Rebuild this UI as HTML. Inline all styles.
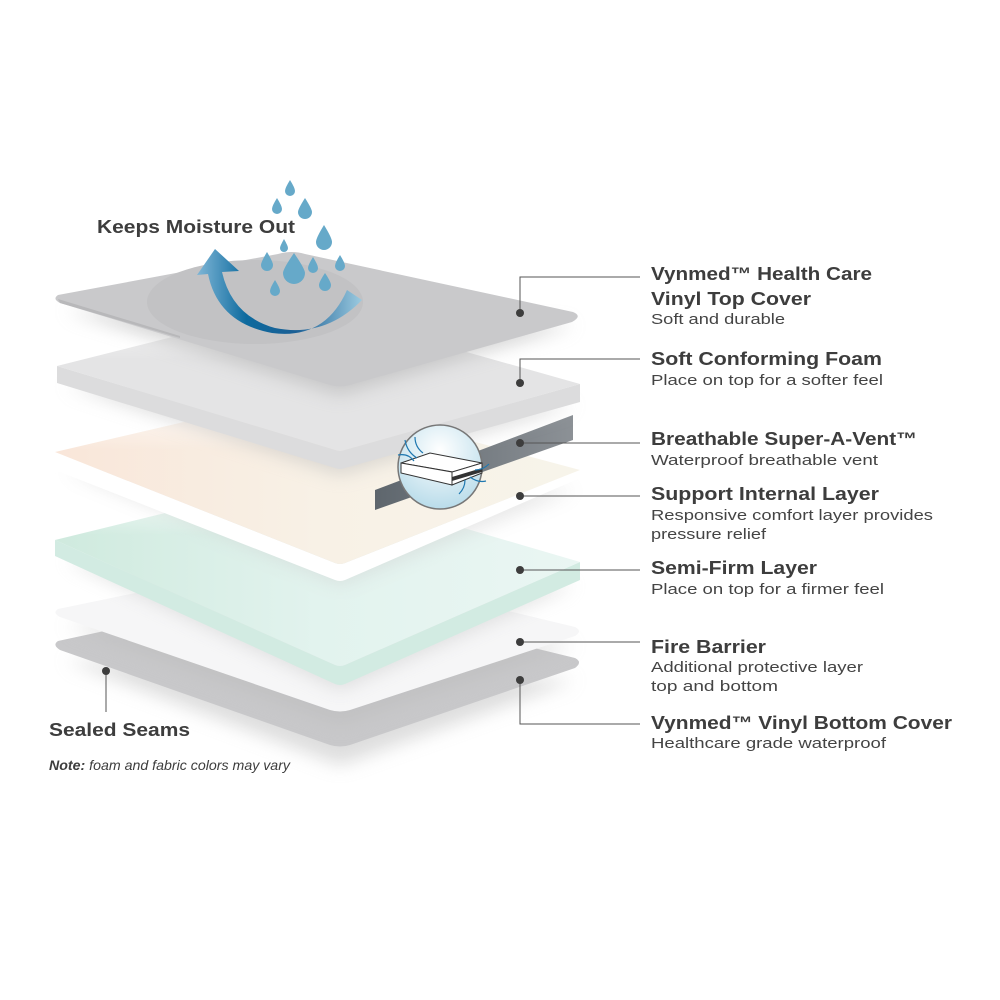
<!DOCTYPE html>
<html><head><meta charset="utf-8"><style>
html,body{margin:0;padding:0;background:#fff;width:1000px;height:1000px;overflow:hidden}
text{font-family:"Liberation Sans",sans-serif;fill:#3d3d3d}
.t{font-weight:bold;font-size:18px}
.s{font-size:15px;fill:#444}
</style></head><body>
<svg width="1000" height="1000" viewBox="0 0 1000 1000" xmlns="http://www.w3.org/2000/svg">
<defs>
<filter id="sh" x="-20%" y="-20%" width="140%" height="160%"><feGaussianBlur stdDeviation="9"/></filter>
<linearGradient id="arr" x1="0" y1="0" x2="1" y2="0">
<stop offset="0" stop-color="#7fb6d6"/><stop offset="0.3" stop-color="#0d6a9e"/><stop offset="0.6" stop-color="#1b5f95"/><stop offset="1" stop-color="#9ccbe0"/></linearGradient>
<linearGradient id="cream" x1="0" y1="0" x2="1" y2="0"><stop offset="0" stop-color="#f9e6d9"/><stop offset="0.5" stop-color="#f8f1e6"/><stop offset="1" stop-color="#f7f4ea"/></linearGradient>
<linearGradient id="mint" x1="0" y1="0" x2="1" y2="0"><stop offset="0" stop-color="#cfeade"/><stop offset="0.5" stop-color="#e2f3ee"/><stop offset="1" stop-color="#eaf6f3"/></linearGradient>
<linearGradient id="fadeTop" gradientUnits="userSpaceOnUse" x1="0" y1="300" x2="0" y2="360"><stop offset="0" stop-color="#fff" stop-opacity="0.9"/><stop offset="1" stop-color="#fff" stop-opacity="0"/></linearGradient>
<linearGradient id="fadeCream" gradientUnits="userSpaceOnUse" x1="0" y1="395" x2="0" y2="450"><stop offset="0" stop-color="#fff" stop-opacity="0.9"/><stop offset="1" stop-color="#fff" stop-opacity="0"/></linearGradient>
<linearGradient id="fadeMint" gradientUnits="userSpaceOnUse" x1="0" y1="480" x2="0" y2="535"><stop offset="0" stop-color="#fff" stop-opacity="0.9"/><stop offset="1" stop-color="#fff" stop-opacity="0"/></linearGradient>
<radialGradient id="bub" cx="0.5" cy="0.3" r="0.7"><stop offset="0" stop-color="#ffffff"/><stop offset="1" stop-color="#b9dcea"/></radialGradient>
<linearGradient id="vent" x1="0" y1="0" x2="1" y2="0"><stop offset="0" stop-color="#5e666d"/><stop offset="1" stop-color="#8c9196"/></linearGradient>
</defs>

<!-- bottom cover -->
<path d="M65 660 L340 765 L575 680 Z" fill="#bbb" opacity="0.5" filter="url(#sh)"/>
<path d="M58 641 Q52 645 60 650 L330 745 Q340 748 350 745 L575 668 Q583 662 575 658 L305 592 Q295 590 285 592 Z" fill="#c8c8ca"/>
<!-- fire barrier -->
<path d="M65 625 L340 725 L575 645 Z" fill="#bbb" opacity="0.5" filter="url(#sh)"/>
<path d="M58 609 Q52 613 60 617 L330 710 Q340 713 350 710 L575 636 Q583 631 575 627 L305 562 Q295 560 285 562 Z" fill="#f6f6f7"/>
<!-- semi-firm -->
<path d="M65 560 L340 690 L575 585 Z" fill="#bbb" opacity="0.4" filter="url(#sh)"/>
<path d="M55 540 L55 556 L335 684 Q340 686 345 684 L580 580 L580 562 L345 665 Q340 667 335 665 Z" fill="#d2ebe2"/>
<path d="M55 540 L335 665 Q340 667 345 665 L580 562 L300 480 Z" fill="url(#mint)"/>
<path d="M55 540 L335 665 Q340 667 345 665 L580 562 L300 480 Z" fill="url(#fadeMint)"/>
<!-- support -->
<path d="M65 470 L340 585 L575 490 Z" fill="#ccc" opacity="0.45" filter="url(#sh)"/>
<path d="M55 452 L55 470 L335 580 Q340 582 345 580 L580 478 L580 470 L345 563 Q340 565 335 563 Z" fill="#fff"/>
<path d="M55 452 L335 563 Q340 565 345 563 L580 470 L300 395 Z" fill="url(#cream)"/>
<path d="M55 452 L335 563 Q340 565 345 563 L580 470 L300 395 Z" fill="url(#fadeCream)"/>
<!-- vent strip -->
<path d="M375 490 L573 415 L573 440 L375 510 Z" fill="url(#vent)"/>
<!-- soft foam -->
<path d="M65 385 L340 475 L575 405 Z" fill="#bbb" opacity="0.5" filter="url(#sh)"/>
<path d="M57 366 L57 383 L335 468 Q340 470 345 468 L580 402 L580 384 L345 450 Q340 452 335 450 Z" fill="#dcdcdd"/>
<path d="M57 366 L335 450 Q340 452 345 450 L580 384 L300 305 Z" fill="#e4e4e5"/>
<path d="M57 366 L335 450 Q340 452 345 450 L580 384 L300 305 Z" fill="url(#fadeTop)"/>
<!-- top cover -->
<path d="M65 310 L340 395 L575 325 Z" fill="#aaa" opacity="0.5" filter="url(#sh)"/>
<path d="M58 295 Q52 299 60 303 L330 385 Q340 388 350 385 L572 322 Q583 316 573 312 L305 254 Q292 250 278 254 Z" fill="#c9c9cb"/>
<path d="M58 299 L180 336 L180 338 L60 303 Z" fill="#b8b8ba"/>
<ellipse cx="255" cy="302" rx="108" ry="42" fill="#c2c2c4"/>

<!-- arrow -->
<path d="M362 300 Q325 338 275 328 Q232 316 222 272 L239 271 L215 249 L197 275 L208 274 Q218 323 272 333 Q325 340 347 290 Z" fill="url(#arr)"/>
<!-- drops -->
<g fill="#66a9c9">
<path d="M290 180 q-5 8 -5 11 a5 5 0 0 0 10 0 q0 -3 -5 -11z"/>
<path d="M277 198 q-5 8 -5 11 a5 5 0 0 0 10 0 q0 -3 -5 -11z"/>
<path d="M305 198 q-7 11 -7 14 a7 7 0 0 0 14 0 q0 -3 -7 -14z"/>
<path d="M324 225 q-8 13 -8 17 a8 8 0 0 0 16 0 q0 -4 -8 -17z"/>
<path d="M284 239 q-4 7 -4 9 a4 4 0 0 0 8 0 q0 -2 -4 -9z"/>
<path d="M267 252 q-6 10 -6 13 a6 6 0 0 0 12 0 q0 -3 -6 -13z"/>
<path d="M294 253 q-11 16 -11 20 a11 11 0 0 0 22 0 q0 -4 -11 -20z"/>
<path d="M313 257 q-5 8 -5 11 a5 5 0 0 0 10 0 q0 -3 -5 -11z"/>
<path d="M340 255 q-5 8 -5 11 a5 5 0 0 0 10 0 q0 -3 -5 -11z"/>
<path d="M275 280 q-5 8 -5 11 a5 5 0 0 0 10 0 q0 -3 -5 -11z"/>
<path d="M325 273 q-6 9 -6 12 a6 6 0 0 0 12 0 q0 -3 -6 -12z"/>
</g>

<!-- vent bubble -->
<circle cx="440" cy="467" r="42" fill="url(#bub)" stroke="#777" stroke-width="1.5"/>
<path d="M401 463 L430 453 L482 463 L453 472 Z" fill="#fff" stroke="#333" stroke-width="1"/>
<path d="M401 463 L401 473 L452 485 L452 472 Z" fill="#fff" stroke="#333" stroke-width="1"/>
<path d="M452 472 L482 463 L482 473 L452 485 Z" fill="#fff" stroke="#333" stroke-width="1"/>
<path d="M452 477 L482 468 L482 472 L452 481 Z" fill="#333"/>
<g fill="none" stroke="#1f78b0" stroke-width="1.2">
<path d="M398 455 q10 -2 16 6"/><path d="M405 440 q2 12 12 18"/><path d="M415 437 q0 10 8 16"/>
<path d="M475 470 q8 0 14 -6"/><path d="M470 477 q8 6 16 4"/><path d="M465 480 q0 8 -6 14"/>
</g>

<!-- leader lines -->
<g stroke="#555" stroke-width="1" fill="none">
<path d="M520 313 V277 H640"/>
<path d="M520 383 V359 H640"/>
<path d="M520 443 H640"/>
<path d="M520 496 H640"/>
<path d="M520 570 H640"/>
<path d="M520 642 H640"/>
<path d="M520 680 V724 H640"/>
<path d="M106 671 V712"/>
</g>
<g fill="#3d3d3d">
<circle cx="520" cy="313" r="4"/><circle cx="520" cy="383" r="4"/><circle cx="520" cy="443" r="4"/>
<circle cx="520" cy="496" r="4"/><circle cx="520" cy="570" r="4"/><circle cx="520" cy="642" r="4"/>
<circle cx="520" cy="680" r="4"/><circle cx="106" cy="671" r="4"/>
</g>

<!-- labels -->
<text class="t" x="97" y="233" textLength="198" lengthAdjust="spacingAndGlyphs">Keeps Moisture Out</text>
<text class="t" x="49" y="736" textLength="141" lengthAdjust="spacingAndGlyphs">Sealed Seams</text>
<text x="49" y="770" font-size="14" font-style="italic" textLength="241" lengthAdjust="spacingAndGlyphs"><tspan font-weight="bold">Note:</tspan> foam and fabric colors may vary</text>

<text class="t" x="651" y="280" textLength="221" lengthAdjust="spacingAndGlyphs">Vynmed™ Health Care</text>
<text class="t" x="651" y="305" textLength="160" lengthAdjust="spacingAndGlyphs">Vinyl Top Cover</text>
<text class="s" x="651" y="324" textLength="134" lengthAdjust="spacingAndGlyphs">Soft and durable</text>

<text class="t" x="651" y="365" textLength="231" lengthAdjust="spacingAndGlyphs">Soft Conforming Foam</text>
<text class="s" x="651" y="385" textLength="232" lengthAdjust="spacingAndGlyphs">Place on top for a softer feel</text>

<text class="t" x="651" y="445" textLength="266" lengthAdjust="spacingAndGlyphs">Breathable Super-A-Vent™</text>
<text class="s" x="651" y="465" textLength="227" lengthAdjust="spacingAndGlyphs">Waterproof breathable vent</text>

<text class="t" x="651" y="500" textLength="228" lengthAdjust="spacingAndGlyphs">Support Internal Layer</text>
<text class="s" x="651" y="520" textLength="282" lengthAdjust="spacingAndGlyphs">Responsive comfort layer provides</text>
<text class="s" x="651" y="539" textLength="115" lengthAdjust="spacingAndGlyphs">pressure relief</text>

<text class="t" x="651" y="574" textLength="166" lengthAdjust="spacingAndGlyphs">Semi-Firm Layer</text>
<text class="s" x="651" y="594" textLength="233" lengthAdjust="spacingAndGlyphs">Place on top for a firmer feel</text>

<text class="t" x="651" y="653" textLength="115" lengthAdjust="spacingAndGlyphs">Fire Barrier</text>
<text class="s" x="651" y="672" textLength="212" lengthAdjust="spacingAndGlyphs">Additional protective layer</text>
<text class="s" x="651" y="691" textLength="127" lengthAdjust="spacingAndGlyphs">top and bottom</text>

<text class="t" x="651" y="729" textLength="301" lengthAdjust="spacingAndGlyphs">Vynmed™ Vinyl Bottom Cover</text>
<text class="s" x="651" y="748" textLength="235" lengthAdjust="spacingAndGlyphs">Healthcare grade waterproof</text>
</svg>
</body></html>
